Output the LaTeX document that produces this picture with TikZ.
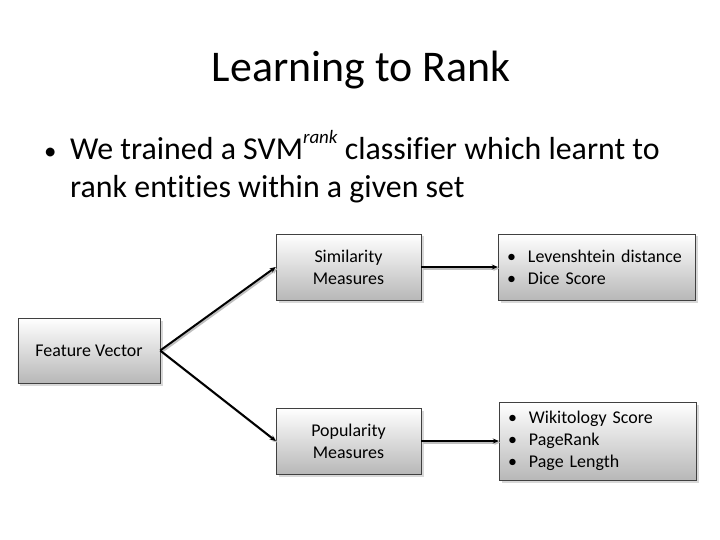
\documentclass[tikz,border=0pt]{standalone}
\usepackage{fontspec}
\setmainfont{Carlito}[Ligatures=CommonOff]
\usetikzlibrary{arrows.meta, shadows}

\begin{document}
\begin{tikzpicture}[
    x=1bp, y=-1bp,
    box/.style={rectangle, draw=black!75, top color=white, bottom color=black!28, drop shadow={shadow xshift=2.5bp, shadow yshift=-2.5bp, opacity=0.3}, align=center, font=\fontsize{18}{22}\selectfont, inner sep=0pt, minimum width=145bp, minimum height=66bp},
    listbox/.style={box, align=left, text width=179bp, inner xsep=9bp, minimum width=197bp},
    arrow/.style={-{Stealth[length=6bp, width=5bp]}, line width=2bp, preaction={draw=black!25, line width=2bp, transform canvas={xshift=1.5bp, yshift=-1.5bp}}}
]

\fill[white] (0,0) rectangle (720,540);
\useasboundingbox (0,0) rectangle (720,540);

% title and bullet text
\node[anchor=base, font=\fontsize{44}{52}\selectfont] (title) at (361,82) {Learning to Rank};
\node[anchor=north west, inner sep=0pt, align=left, font=\fontsize{32}{38}\selectfont] (intro) at (44,130.5)
    {\makebox[26bp][l]{\fontsize{25}{25}\selectfont\textbullet}We trained a SVM\raisebox{16bp}{\fontsize{19}{19}\selectfont\itshape rank} classifier which learnt to\\
     \hspace*{26bp}rank entities within a given set};

% boxes
\node[box, minimum width=142bp, minimum height=65bp] (feature) at (89,350.5) {Feature Vector};
\node[box] (similarity) at (348.5,267) {Similarity\\Measures};
\node[box] (popularity) at (348.5,441) {Popularity\\Measures};
\node[listbox] (simlist) at (596.5,267)
    {\makebox[21bp][l]{\textbullet}Levenshtein distance\\
     \makebox[21bp][l]{\textbullet}Dice Score};
\node[listbox, minimum height=78bp] (poplist) at (597.5,441)
    {\makebox[21bp][l]{\textbullet}Wikitology Score\\
     \makebox[21bp][l]{\textbullet}PageRank\\
     \makebox[21bp][l]{\textbullet}Page Length};

% connectors
\draw[arrow] (feature.east) -- (similarity.west);
\draw[arrow] (feature.east) -- (popularity.west);
\draw[arrow] (similarity) -- (simlist);
\draw[arrow] (popularity) -- (poplist);

\end{tikzpicture}
\end{document}
